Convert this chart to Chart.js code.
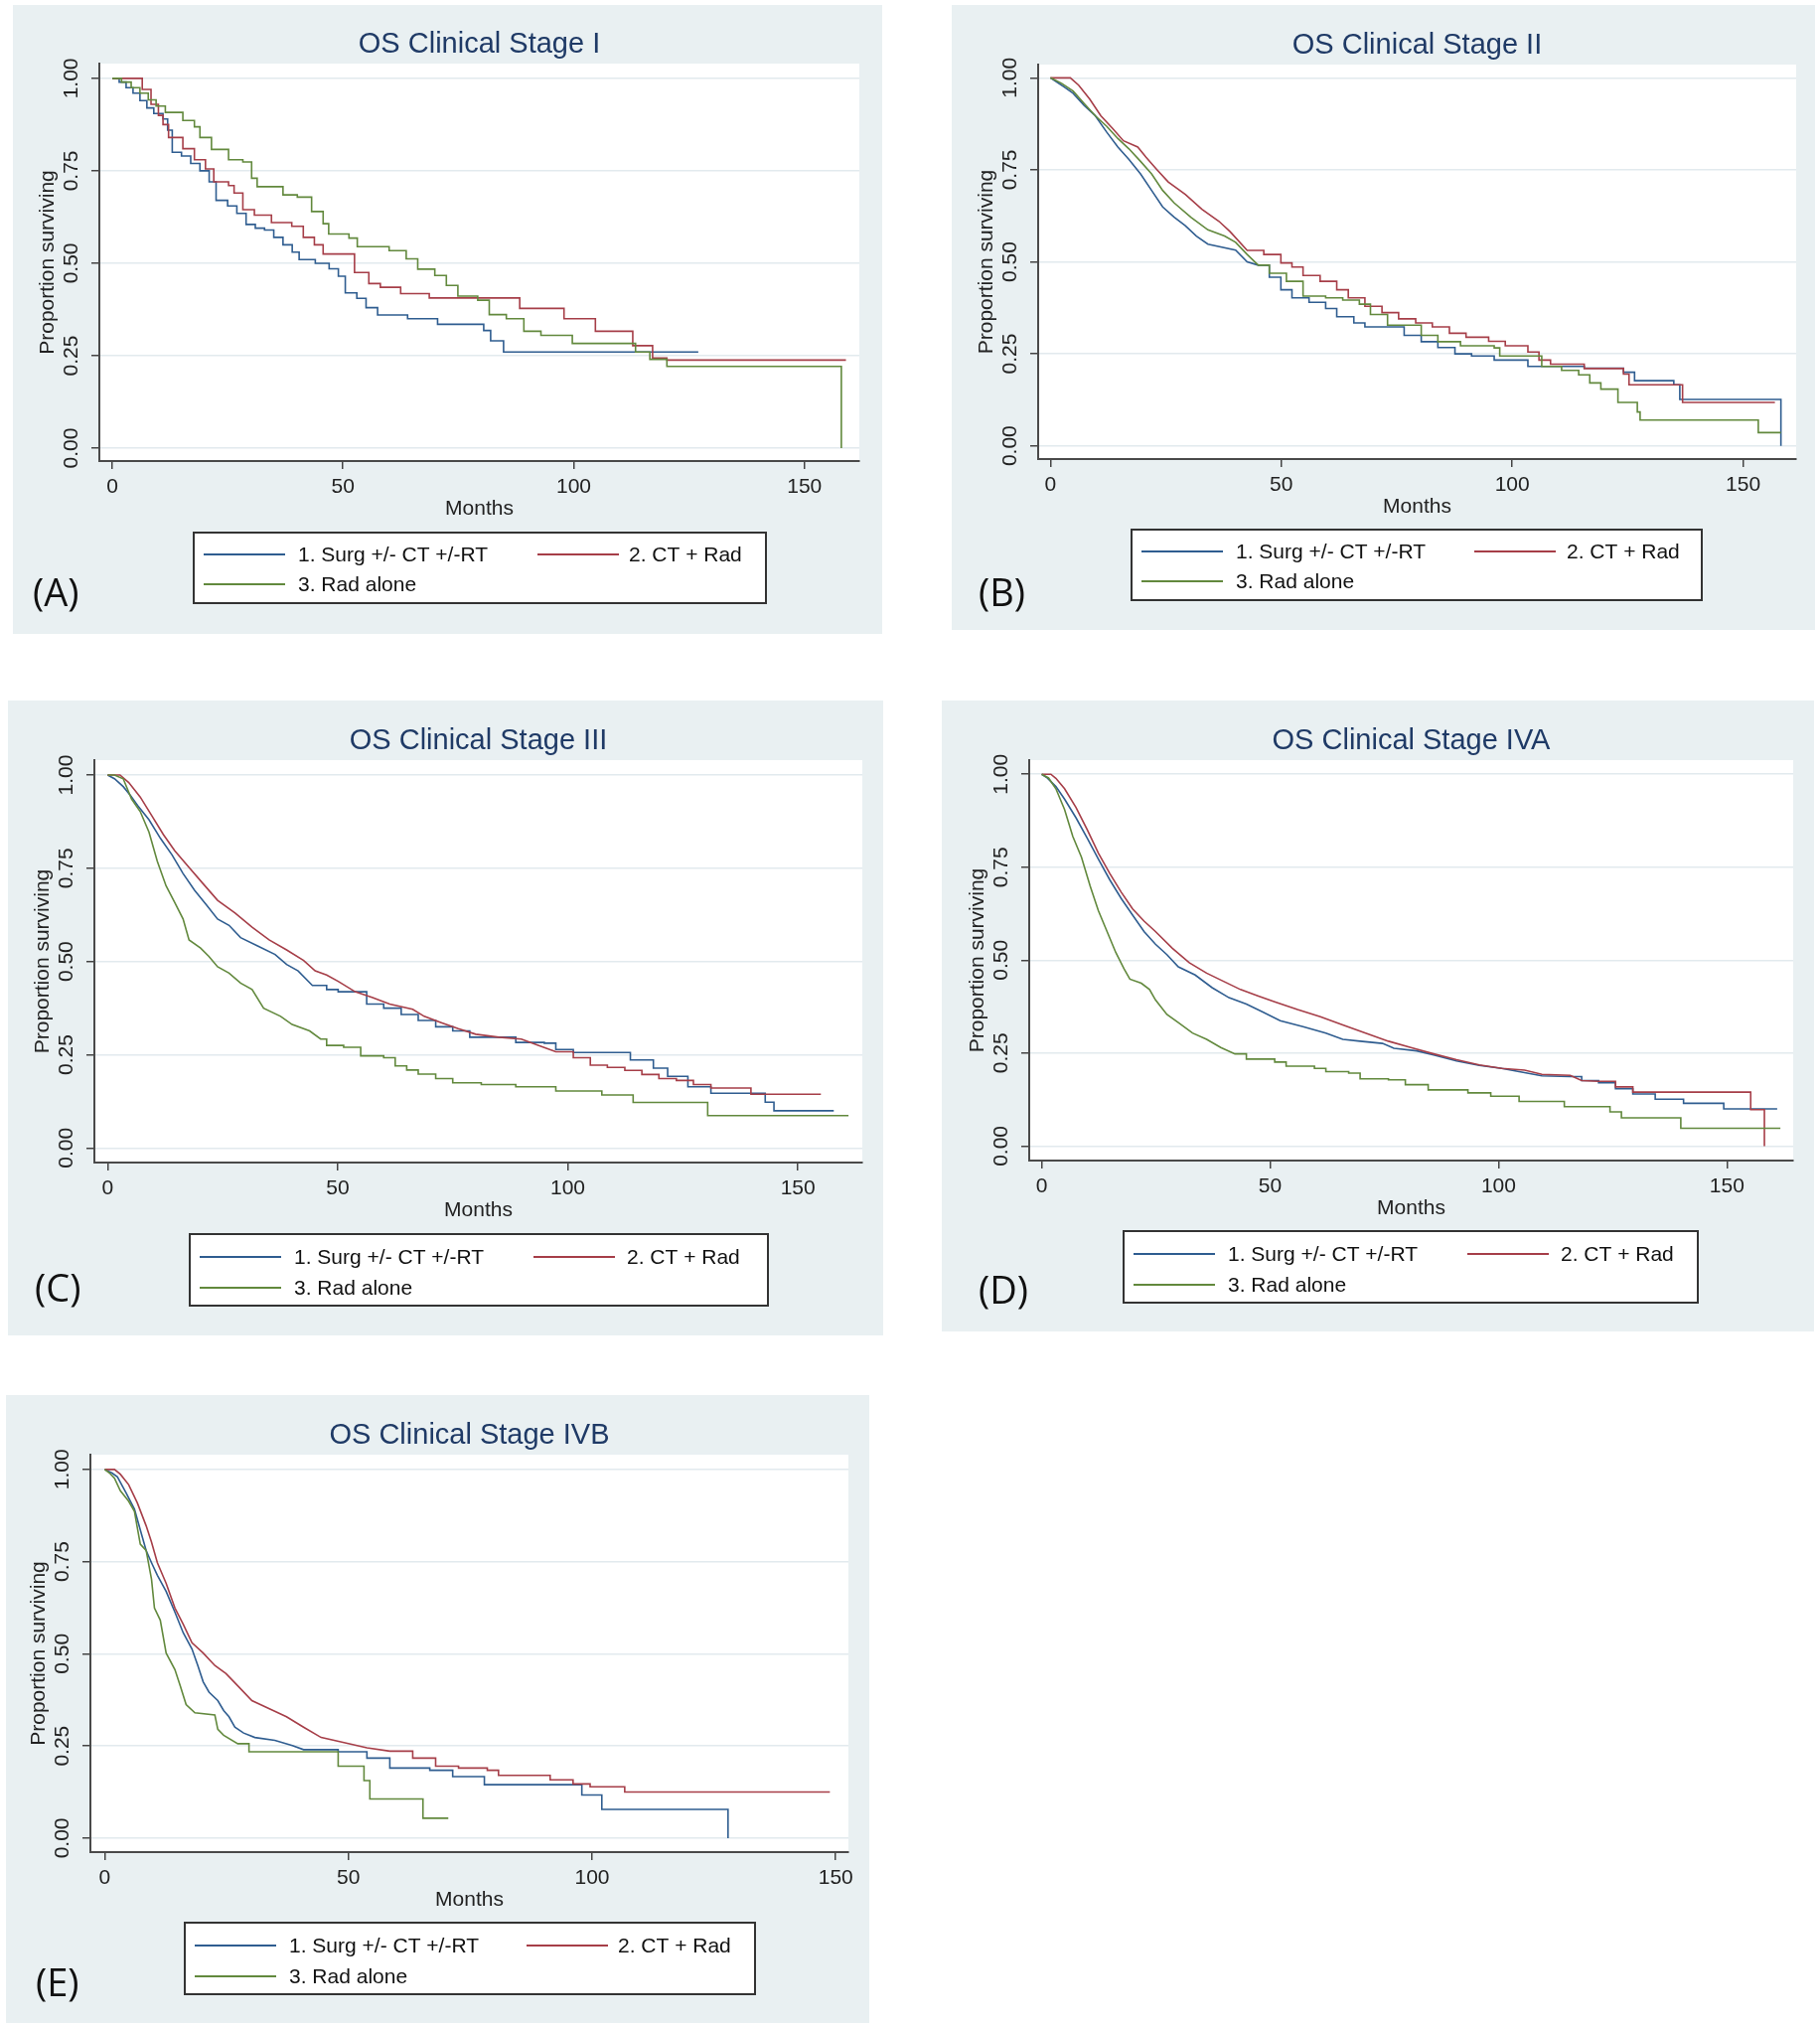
<!DOCTYPE html>
<html><head><meta charset="utf-8">
<script src="https://cdn.jsdelivr.net/npm/chart.js@4/dist/chart.umd.min.js"></script>
<style>
html,body{margin:0;padding:0;background:#fff;}
body{width:1832px;height:2040px;position:relative;overflow:hidden;}
.panel{position:absolute;}
</style></head><body>
<script>
// ---------- labels ----------
const seriesLabels = ['1. Surg +/- CT +/-RT', '2. CT + Rad', '3. Rad alone'];
const xTicks = [0, 50, 100, 150];
const yTicks = [0, 0.25, 0.5, 0.75, 1];
const xTitle = 'Months';
const yTitle = 'Proportion surviving';
const panelTitles = ['OS Clinical Stage I', 'OS Clinical Stage II', 'OS Clinical Stage III', 'OS Clinical Stage IVA', 'OS Clinical Stage IVB'];
const panelLetters = ['(A)', '(B)', '(C)', '(D)', '(E)'];

// ---------- data: [months, proportion surviving] (KM step points) ----------
const stageI_surg = [[0,1],[1.5,0.99],[3,0.975],[4.5,0.96],[6,0.94],[7.5,0.92],[9,0.905],[11,0.89],[12,0.86],[13,0.8],[15,0.79],[17,0.77],[19,0.75],[21,0.72],[22.5,0.67],[25,0.655],[27,0.635],[29,0.605],[31,0.595],[33,0.59],[35,0.57],[37,0.55],[39,0.53],[40.5,0.51],[44,0.5],[47,0.485],[49,0.465],[50.5,0.42],[53,0.405],[55,0.38],[57.5,0.36],[64,0.35],[70.5,0.335],[80.5,0.318],[82,0.29],[84.8,0.26],[127,0.26]];
const stageI_ctrad = [[0,1],[5,1],[6.5,0.97],[8.4,0.93],[10,0.9],[11,0.875],[12.2,0.84],[15.3,0.81],[17.8,0.78],[20.2,0.755],[22,0.72],[25.2,0.71],[26.4,0.69],[28.3,0.645],[30.8,0.63],[34.5,0.61],[38.9,0.6],[41.4,0.57],[43.8,0.55],[45.7,0.525],[52.5,0.475],[55.6,0.445],[58.1,0.435],[62.5,0.418],[68.7,0.406],[88.3,0.378],[97.9,0.35],[104.7,0.316],[112.8,0.277],[117.1,0.244],[120.2,0.238],[159,0.238]];
const stageI_rad = [[0,1],[2,0.99],[4.1,0.975],[6,0.96],[7.8,0.942],[9.5,0.925],[11.5,0.908],[15.3,0.886],[17.8,0.869],[19,0.84],[21.5,0.808],[25.2,0.78],[28.3,0.774],[30.2,0.73],[31.4,0.707],[37,0.685],[40.1,0.679],[43.2,0.64],[45.7,0.607],[46.9,0.579],[51.3,0.568],[53.1,0.545],[60,0.534],[63.7,0.512],[66.2,0.484],[69.9,0.467],[72.4,0.44],[74.9,0.411],[79.2,0.4],[81.7,0.361],[85.4,0.35],[89.2,0.316],[92.9,0.305],[99.7,0.283],[113.4,0.26],[116.5,0.24],[120.2,0.221],[158,0.221],[158,0]];

const stageII_surg = [[0,1],[1.2,0.99],[3,0.975],[4.9,0.958],[7.3,0.925],[9.7,0.897],[12.2,0.852],[14.6,0.812],[17,0.778],[19.5,0.739],[21.9,0.694],[24.3,0.649],[26.8,0.621],[29.2,0.598],[31.6,0.57],[34.1,0.548],[40.1,0.532],[42.6,0.5],[45,0.491],[47.4,0.458],[49.9,0.424],[52.3,0.402],[56,0.39],[59.6,0.373],[62,0.351],[65.7,0.334],[68.1,0.323],[76.6,0.3],[80.3,0.283],[83.9,0.267],[87.6,0.25],[91.2,0.244],[96.1,0.233],[103.4,0.216],[115.6,0.211],[124.1,0.2],[126.5,0.177],[135,0.166],[136.3,0.126],[158.2,0.126],[158.2,0]];
const stageII_ctrad = [[0,1],[4.3,1],[6.1,0.98],[8.5,0.942],[10.9,0.897],[13.4,0.863],[15.8,0.829],[18.9,0.812],[20.7,0.784],[23.1,0.75],[25.5,0.717],[29.2,0.683],[32.8,0.643],[36.5,0.61],[38.9,0.582],[42.6,0.531],[46.2,0.52],[49.9,0.497],[52.3,0.486],[54.7,0.463],[58.4,0.447],[62,0.424],[64.5,0.402],[68.1,0.379],[71.8,0.362],[75.4,0.345],[79.1,0.334],[82.7,0.323],[86.4,0.306],[90,0.295],[94.9,0.284],[98.5,0.272],[103.4,0.255],[105.8,0.233],[108.3,0.222],[115.6,0.21],[124.1,0.195],[125.3,0.166],[136.9,0.118],[156.9,0.118]];
const stageII_rad = [[0,1],[2.4,0.985],[4.9,0.964],[7.3,0.93],[9.7,0.897],[12.2,0.868],[14.6,0.835],[17,0.807],[19.5,0.773],[21.9,0.739],[24.3,0.694],[26.8,0.66],[30.4,0.621],[34.1,0.587],[37.7,0.57],[40.1,0.553],[42.6,0.52],[45,0.491],[47.4,0.469],[51.1,0.447],[54.7,0.407],[59.6,0.402],[63.3,0.396],[66.9,0.385],[69.3,0.357],[73,0.328],[80.3,0.3],[83.9,0.283],[88.8,0.272],[96.1,0.266],[97.3,0.244],[106.4,0.216],[110.7,0.205],[114.4,0.193],[116.8,0.171],[119.2,0.154],[122.9,0.118],[127.1,0.092],[127.7,0.07],[153.3,0.036],[158.2,0.036]];

const stageIII_surg = [[0,1],[1.5,0.99],[3.4,0.969],[5,0.945],[6.5,0.919],[9,0.88],[11.5,0.83],[14,0.786],[16.4,0.736],[18.9,0.691],[21.4,0.653],[23.9,0.614],[26.4,0.597],[28.9,0.564],[32.6,0.542],[36.4,0.519],[38.9,0.492],[41.4,0.475],[44.5,0.436],[47.6,0.425],[50.1,0.419],[56.3,0.386],[60,0.375],[63.8,0.358],[67.5,0.342],[71.3,0.325],[75,0.314],[78.7,0.297],[88.7,0.283],[94.9,0.281],[97.4,0.264],[101.2,0.256],[113.6,0.236],[118.6,0.214],[121.7,0.192],[126.1,0.164],[131.1,0.147],[142.9,0.123],[144.8,0.1],[157.8,0.1]];
const stageIII_ctrad = [[0,1],[2.7,1],[4.6,0.98],[7.1,0.941],[9.6,0.891],[12.1,0.841],[14.6,0.797],[17.7,0.752],[20.8,0.708],[23.9,0.664],[27.7,0.63],[31.4,0.592],[35.1,0.558],[38.9,0.531],[42.6,0.503],[45.1,0.475],[47.6,0.464],[50.1,0.447],[53.8,0.419],[57.6,0.403],[61.3,0.386],[66.3,0.372],[68.8,0.353],[72.5,0.336],[76.2,0.32],[80,0.305],[85,0.297],[89.9,0.292],[93.7,0.275],[97.4,0.258],[101.2,0.242],[104.9,0.222],[108.6,0.216],[112.4,0.208],[116.1,0.197],[119.8,0.186],[123.6,0.181],[127.3,0.17],[131.1,0.161],[139.8,0.144],[155,0.144]];
const stageIII_rad = [[0,1],[1.5,1],[3.4,0.99],[5.2,0.936],[7.1,0.902],[9,0.847],[10.8,0.769],[12.7,0.703],[14.6,0.658],[16.4,0.614],[17.7,0.558],[20.2,0.536],[22,0.514],[23.9,0.486],[26.4,0.469],[28.9,0.442],[31.4,0.425],[33.9,0.375],[37.6,0.353],[40.1,0.331],[43.9,0.314],[46.3,0.292],[47.6,0.275],[51.3,0.27],[55,0.247],[60,0.242],[62.5,0.22],[65,0.209],[67.5,0.198],[71.3,0.186],[75,0.175],[81.2,0.17],[88.7,0.164],[97.4,0.153],[107.4,0.142],[114.2,0.122],[130.4,0.087],[161,0.087]];

const stageIVA_surg = [[0,1],[1.2,0.99],[3.1,0.967],[5,0.933],[7.5,0.883],[10,0.827],[12.4,0.772],[14.9,0.716],[17.4,0.666],[19.9,0.621],[22.4,0.577],[24.9,0.543],[27.4,0.515],[29.9,0.482],[33.6,0.46],[37.3,0.426],[41,0.399],[44.8,0.382],[48.5,0.36],[52.2,0.337],[57.2,0.321],[62.2,0.304],[65.9,0.287],[69.7,0.282],[74.6,0.276],[77.1,0.263],[82.1,0.256],[85.8,0.245],[90.8,0.229],[95.8,0.217],[100.7,0.209],[104.5,0.2],[109.5,0.189],[115.7,0.187],[118.2,0.176],[121.9,0.17],[125.6,0.154],[129.4,0.14],[134.3,0.126],[140.5,0.115],[149.3,0.1],[161,0.1]];
const stageIVA_ctrad = [[0,1],[2,1],[3.1,0.989],[5,0.961],[7.5,0.911],[10,0.85],[12.4,0.788],[14.9,0.733],[17.4,0.683],[19.9,0.638],[22.4,0.605],[24.9,0.577],[28.6,0.532],[32.3,0.493],[36.1,0.465],[39.8,0.443],[43.5,0.421],[47.3,0.404],[51,0.388],[56,0.367],[61,0.348],[65.9,0.326],[70.9,0.304],[75.9,0.282],[80.8,0.265],[85.8,0.248],[90.8,0.232],[95.8,0.218],[100.7,0.209],[105.7,0.204],[109.5,0.193],[115.7,0.19],[118.2,0.176],[121.9,0.174],[125.6,0.159],[129.4,0.145],[155.2,0.098],[158.2,0]];
const stageIVA_rad = [[0,1],[1.5,0.99],[3.1,0.961],[5,0.905],[6.8,0.833],[8.7,0.777],[10.6,0.699],[12.4,0.633],[14.3,0.577],[16.2,0.521],[18,0.477],[19.3,0.449],[21.8,0.438],[23.6,0.421],[24.9,0.393],[27.4,0.354],[29.9,0.332],[33,0.304],[36.1,0.287],[39.2,0.265],[42.3,0.248],[44.8,0.234],[51,0.226],[53.5,0.215],[59.7,0.209],[62.2,0.2],[67.2,0.196],[69.7,0.181],[75.9,0.178],[79.6,0.165],[84.6,0.151],[93.3,0.143],[98.3,0.134],[104.5,0.12],[114.4,0.106],[124.4,0.092],[126.9,0.076],[139.9,0.048],[161.7,0.048]];

const stageIVB_surg = [[0,1],[1.5,0.99],[2.6,0.98],[4.4,0.936],[6.1,0.892],[7.3,0.836],[8.5,0.78],[9.6,0.747],[10.8,0.713],[12.6,0.669],[14.4,0.613],[16.1,0.557],[17.9,0.513],[19.1,0.468],[20.2,0.424],[21.4,0.396],[23.2,0.373],[24.4,0.346],[25.5,0.329],[26.7,0.301],[28.5,0.285],[30.8,0.273],[34.9,0.265],[38.5,0.251],[40.8,0.24],[47.9,0.234],[53.8,0.217],[58.5,0.19],[66.7,0.184],[71.4,0.167],[77.9,0.145],[97.9,0.117],[102,0.078],[127.9,0.078],[127.9,0]];
const stageIVB_ctrad = [[0,1],[2,1],[3.2,0.987],[4.9,0.959],[6.7,0.909],[8.5,0.847],[9.6,0.803],[10.8,0.747],[12.6,0.691],[14.4,0.624],[16.1,0.58],[17.9,0.53],[20.2,0.502],[22.6,0.468],[24.9,0.446],[27.3,0.413],[30.2,0.373],[33.8,0.351],[37.3,0.329],[40.8,0.301],[44.4,0.273],[49.1,0.259],[53.8,0.245],[58.5,0.236],[63.2,0.217],[67.9,0.195],[72.6,0.19],[78.5,0.184],[80.8,0.17],[91.4,0.158],[96.1,0.147],[99.6,0.139],[106.7,0.125],[148.8,0.125]];
const stageIVB_rad = [[0,1],[1,0.99],[2,0.976],[3.2,0.942],[4.9,0.914],[6.1,0.886],[6.7,0.841],[7.3,0.797],[8.5,0.78],[9.6,0.702],[10.2,0.624],[11.4,0.591],[12.6,0.502],[14.4,0.457],[15.5,0.413],[16.7,0.362],[18.5,0.34],[22.6,0.334],[23.2,0.295],[24.4,0.279],[27.3,0.256],[29.6,0.234],[47.9,0.195],[53.2,0.156],[54.4,0.106],[65.3,0.054],[70.5,0.054]];

// ---------- presentation ----------
const COLORS = ['#2f5d90', '#a63e48', '#62893d'];
const BG = '#e9f0f2';
const FONT = '"Liberation Sans", Arial, sans-serif';
const Y_W = 64, X_H = 61;

// smooth: month before which dense small steps are drawn as a continuous trace (per series)
const panels = [
  {d:[stageI_surg, stageI_ctrad, stageI_rad], smooth:[0,0,0], bg:[13,5,888,638], area:[100,64,865,464], x:[-2.8,161.9], y:[-0.035,1.040], leg:[195,536,771,607], rows:[558,588], col2:[346,438], let:[33,610]},
  {d:[stageII_surg, stageII_ctrad, stageII_rad], smooth:[45,45,45], bg:[958,5,1827,634], area:[1045,65,1808,462], x:[-2.67,161.5], y:[-0.036,1.036], leg:[1139,533,1713,604], rows:[555,585], col2:[345,438], let:[985,610]},
  {d:[stageIII_surg, stageIII_ctrad, stageIII_rad], smooth:[45,100,47], bg:[8,705,889,1344], area:[95,765,868,1170], x:[-2.87,164.0], y:[-0.039,1.040], leg:[191,1242,773,1314], rows:[1265,1296], col2:[346,440], let:[35,1310]},
  {d:[stageIVA_surg, stageIVA_ctrad, stageIVA_rad], smooth:[118,122,44], bg:[948,705,1826,1340], area:[1036,765,1805,1168], x:[-2.74,164.5], y:[-0.039,1.038], leg:[1131,1239,1709,1311], rows:[1262,1293], col2:[346,440], let:[985,1312]},
  {d:[stageIVB_surg, stageIVB_ctrad, stageIVB_rad], smooth:[45,62,28], bg:[6,1404,875,2036], area:[91,1464,854,1864], x:[-2.94,152.6], y:[-0.038,1.040], leg:[186,1935,760,2007], rows:[1958,1989], col2:[344,436], let:[36,2009]}
];

// KM step function: add the corner (t_i, S_{i-1}) for each drop after the smooth limit
function kmPoints(arr, smoothUntil) {
  const out = [{x: arr[0][0], y: arr[0][1]}];
  for (let i = 1; i < arr.length; i++) {
    const [t, s] = arr[i];
    const prev = arr[i - 1][1];
    if (t > smoothUntil && s !== prev) out.push({x: t, y: prev});
    out.push({x: t, y: s});
  }
  return out;
}

const deco = {
  id: 'deco',
  beforeDraw(chart, args, o) {
    const {ctx, chartArea: a} = chart;
    ctx.save();
    ctx.fillStyle = BG;
    ctx.fillRect(0, 0, chart.width, chart.height);
    ctx.fillStyle = '#ffffff';
    ctx.fillRect(a.left, a.top, a.right - a.left, a.bottom - a.top);
    ctx.restore();
  },
  afterDraw(chart, args, o) {
    const {ctx, chartArea: a} = chart;
    const p = o.p, ox = p.bg[0], oy = p.bg[1];
    ctx.save();
    ctx.fillStyle = '#1f3a66';
    ctx.font = '29px ' + FONT;
    ctx.textAlign = 'center';
    ctx.textBaseline = 'alphabetic';
    ctx.fillText(o.title, (a.left + a.right) / 2, a.top - 11);
    const L = p.leg[0] - ox, T = p.leg[1] - oy, W = p.leg[2] - p.leg[0], H = p.leg[3] - p.leg[1];
    ctx.fillStyle = '#ffffff';
    ctx.fillRect(L, T, W, H);
    ctx.strokeStyle = '#333333';
    ctx.lineWidth = 2;
    ctx.strokeRect(L, T, W, H);
    ctx.font = '21px ' + FONT;
    ctx.textAlign = 'left';
    ctx.textBaseline = 'middle';
    chart.data.datasets.forEach((ds, i) => {
      const row = i < 2 ? 0 : 1;
      const col = i === 1 ? 1 : 0;
      const y = p.rows[row] - oy;
      const x0 = L + (col ? p.col2[0] : 10);
      const tx = L + (col ? p.col2[1] : 105);
      ctx.strokeStyle = ds.borderColor;
      ctx.lineWidth = 2;
      ctx.beginPath();
      ctx.moveTo(x0, y);
      ctx.lineTo(x0 + 82, y);
      ctx.stroke();
      ctx.fillStyle = '#111111';
      ctx.fillText(ds.label, tx, y + 1);
    });
    ctx.font = '38px "Open Sans", ' + FONT;
    ctx.fillStyle = '#111111';
    ctx.textAlign = 'left';
    ctx.textBaseline = 'alphabetic';
    ctx.fillText(o.letter, p.let[0] - ox, p.let[1] - oy);
    ctx.restore();
  }
};

panels.forEach((p, k) => {
  const w = p.bg[2] - p.bg[0], h = p.bg[3] - p.bg[1];
  const div = document.createElement('div');
  div.className = 'panel';
  div.style.left = p.bg[0] + 'px';
  div.style.top = p.bg[1] + 'px';
  div.style.width = w + 'px';
  div.style.height = h + 'px';
  const cv = document.createElement('canvas');
  cv.width = w; cv.height = h;
  cv.style.width = w + 'px'; cv.style.height = h + 'px';
  div.appendChild(cv);
  document.body.appendChild(div);

  const tickFont = {family: FONT, size: 21};
  new Chart(cv.getContext('2d'), {
    type: 'line',
    data: {
      datasets: p.d.map((arr, i) => ({
        label: seriesLabels[i],
        data: kmPoints(arr, p.smooth[i]),
        borderColor: COLORS[i],
        backgroundColor: COLORS[i],
        borderWidth: 1.6,
        pointRadius: 0,
        tension: 0,
        fill: false,
        order: 3 - i
      }))
    },
    options: {
      responsive: false,
      animation: false,
      devicePixelRatio: 1,
      events: [],
      layout: {padding: {
        left: p.area[0] - p.bg[0] - Y_W,
        top: p.area[1] - p.bg[1],
        right: p.bg[2] - p.area[2],
        bottom: p.bg[3] - p.area[3] - X_H
      }},
      scales: {
        x: {
          type: 'linear', min: p.x[0], max: p.x[1],
          afterBuildTicks: s => { s.ticks = xTicks.map(v => ({value: v})); },
          afterFit: s => { s.height = X_H; },
          grid: {drawOnChartArea: false, drawTicks: true, tickLength: 8, tickColor: '#444', color: '#444', lineWidth: 1.5},
          border: {color: '#4a4a4a', width: 2},
          ticks: {font: tickFont, color: '#222', padding: 6, maxRotation: 0, autoSkip: false, callback: v => String(v)},
          title: {display: true, text: xTitle, font: tickFont, color: '#222', padding: 0}
        },
        y: {
          type: 'linear', min: p.y[0], max: p.y[1],
          afterBuildTicks: s => { s.ticks = yTicks.map(v => ({value: v})); },
          afterFit: s => { s.width = Y_W; },
          grid: {color: '#e2eaee', lineWidth: 1.5, drawTicks: true, tickLength: 8, tickColor: '#444'},
          border: {color: '#4a4a4a', width: 2},
          ticks: {font: tickFont, color: '#222', padding: -1, minRotation: 90, maxRotation: 90, crossAlign: 'center', autoSkip: false, callback: v => Number(v).toFixed(2)},
          title: {display: true, text: yTitle, font: tickFont, color: '#222', padding: 0}
        }
      },
      plugins: {
        legend: {display: false},
        tooltip: {enabled: false},
        title: {display: false},
        deco: {p: p, title: panelTitles[k], letter: panelLetters[k]}
      }
    },
    plugins: [deco]
  });
});
</script>
</body></html>
